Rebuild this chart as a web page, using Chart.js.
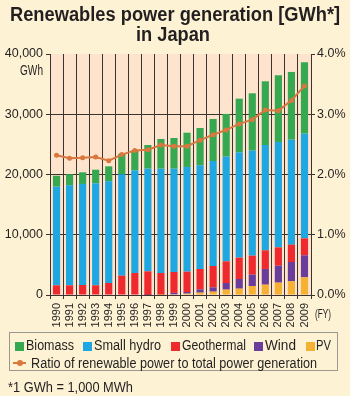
<!DOCTYPE html>
<html>
<head>
<meta charset="utf-8">
<script src="https://cdn.jsdelivr.net/npm/chart.js@4"></script>
<style>
  html, body { margin: 0; padding: 0; background: #fdf3d4; }
  body { width: 350px; height: 396px; position: relative; overflow: hidden;
         font-family: "Liberation Sans", Arial, sans-serif; color: #231f20; }
  #chart { position: absolute; left: 0; top: 0; }
  .t { position: absolute; white-space: nowrap; transform-origin: 0 0; display: inline-block; }
  .title { font-weight: bold; font-size: 20px; line-height: 20px; }
  .lg { font-size: 14px; line-height: 14px; }
  #legend { position: absolute; left: 9px; top: 332px; width: 329px; height: 39px; border: 1px solid #9b9690; box-sizing: border-box; }
  .sw { position: absolute; width: 9px; height: 9px; }
</style>
</head>
<body>
<canvas id="chart" width="350" height="396"></canvas>
<div class="t title" data-w="330" style="left:10px; top:4px">Renewables power generation [GWh*]</div>
<div class="t title" data-w="74" style="left:136px; top:24px">in Japan</div>
<div class="t" data-w="23" style="left:20px; top:63px; font-size:14px; line-height:14px">GWh</div>
<div class="t" data-w="16" style="left:315px; top:307px; font-size:13px; line-height:13px">(FY)</div>
<div id="legend"></div>
<div class="t lg" data-w="125" style="left:8px; top:380px">*1 GWh = 1,000 MWh</div>
<script>
// Fiscal years
const years = ['1990', '1991', '1992', '1993', '1994', '1995', '1996', '1997', '1998', '1999',
               '2000', '2001', '2002', '2003', '2004', '2005', '2006', '2007', '2008', '2009'];

// Generation by source, GWh
const pv         = [0, 0, 0, 0, 0, 0, 0, 0, 20, 100, 220, 390, 550, 890, 1050, 1490, 1710, 2050, 2270, 2930];
const wind       = [0, 0, 0, 0, 0, 0, 0, 10, 40, 250, 280, 550, 720, 1100, 1610, 1890, 2610, 2820, 3210, 3660];
const geothermal = [1610, 1610, 1660, 1610, 1990, 3210, 3650, 3920, 3590, 3470, 3370, 3380, 3540, 3600, 3540, 3150, 3100, 3040, 2870, 2820];
const smallHydro = [16370, 16590, 16770, 16930, 16910, 16830, 17050, 17040, 17320, 17150, 17380, 17210, 17430, 17370, 17490, 17430, 17480, 17490, 17430, 17370];
const biomass    = [1820, 1840, 1940, 2260, 2460, 3420, 3320, 3930, 4930, 5090, 5690, 6190, 6980, 7090, 8900, 9520, 10570, 11070, 11240, 11850];

// Ratio of renewable power to total power generation, %
const ratio = [2.32, 2.27, 2.28, 2.29, 2.23, 2.33, 2.40, 2.41, 2.49, 2.47,
               2.47, 2.57, 2.66, 2.74, 2.84, 2.91, 3.07, 3.06, 3.23, 3.47];

// Axis ticks
const gwhTicks = [0, 10000, 20000, 30000, 40000];
const pctTicks = [0, 1, 2, 3, 4];

const colors = {
    biomass: '#36a852',
    smallHydro: '#1ea7e0',
    geothermal: '#ee2a2e',
    wind: '#6a3d9a',
    pv: '#f6b132',
    ratio: '#d9773f',
    grid: '#3a3330',
    text: '#231f20',
    plot: '#fee4cd'
};

const fontFamily = '"Liberation Sans", Arial, sans-serif';

// Fill the plot area
const plotBackground = {
    id: 'plotBackground',
    beforeDraw(chart) {
        const { ctx, chartArea: a } = chart;
        ctx.save();
        ctx.fillStyle = colors.plot;
        ctx.fillRect(a.left, a.top, a.right - a.left, a.bottom - a.top);
        ctx.restore();
    }
};

function barSet(label, data, color) {
    return {
        label: label,
        data: data,
        backgroundColor: color,
        borderWidth: 0,
        yAxisID: 'y',
        order: 1,
        barPercentage: 0.55,
        categoryPercentage: 1
    };
}

new Chart(document.getElementById('chart'), {
    type: 'bar',
    data: {
        labels: years,
        datasets: [
            {
                type: 'line',
                label: 'Ratio of renewable power to total power generation',
                data: ratio,
                yAxisID: 'y1',
                order: 0,
                borderColor: colors.ratio,
                backgroundColor: colors.ratio,
                borderWidth: 2,
                pointRadius: 2.5,
                pointBorderWidth: 0,
                tension: 0
            },
            barSet('PV', pv, colors.pv),
            barSet('Wind', wind, colors.wind),
            barSet('Geothermal', geothermal, colors.geothermal),
            barSet('Small hydro', smallHydro, colors.smallHydro),
            barSet('Biomass', biomass, colors.biomass)
        ]
    },
    options: {
        responsive: false,
        animation: false,
        layout: { padding: { top: 54, bottom: 66, left: 0, right: 0 } },
        plugins: {
            legend: { display: false },
            tooltip: { enabled: false }
        },
        scales: {
            x: {
                stacked: true,
                afterFit: s => { s.height = 35; },
                grid: { color: colors.grid, tickColor: colors.grid, tickLength: 4, offset: true },
                border: { color: colors.grid },
                ticks: {
                    color: colors.text,
                    font: { family: fontFamily, size: 11 },
                    minRotation: 90,
                    maxRotation: 90,
                    autoSkip: false,
                    padding: 4
                }
            },
            y: {
                stacked: true,
                position: 'left',
                min: gwhTicks[0],
                max: gwhTicks[gwhTicks.length - 1],
                afterFit: s => { s.width = 50; },
                afterBuildTicks: s => { s.ticks = gwhTicks.map(v => ({ value: v })); },
                grid: {
                    color: c => (c.tick && c.tick.value === 40000 ? 'rgba(0,0,0,0)' : colors.grid),
                    tickColor: colors.grid,
                    tickLength: 4
                },
                border: { color: colors.grid },
                ticks: {
                    color: colors.text,
                    font: { family: fontFamily, size: 12.5 },
                    padding: 3,
                    callback: v => v.toLocaleString('en-US')
                }
            },
            y1: {
                position: 'right',
                min: pctTicks[0],
                max: pctTicks[pctTicks.length - 1],
                afterFit: s => { s.width = 39; },
                afterBuildTicks: s => { s.ticks = pctTicks.map(v => ({ value: v })); },
                grid: { drawOnChartArea: false, color: colors.grid, tickColor: colors.grid, tickLength: 4 },
                border: { color: colors.grid },
                ticks: {
                    color: colors.text,
                    font: { family: fontFamily, size: 12.5 },
                    padding: 2,
                    callback: v => v.toFixed(1) + '%'
                }
            }
        }
    },
    plugins: [plotBackground]
});

// Legend box: [label, colour, swatch x, text x, text width]
const legendRow1 = [
    ['Biomass', colors.biomass, 5, 16, 48],
    ['Small hydro', colors.smallHydro, 73, 84, 67],
    ['Geothermal', colors.geothermal, 161, 172, 64],
    ['Wind', colors.wind, 244, 255, 31],
    ['PV', colors.pv, 296, 306, 15]
];
let html = '';
legendRow1.forEach(([t, c, sx, tx, w]) => {
    html += '<span class="sw" style="left:' + sx + 'px; top:9px; background:' + c + '"></span>';
    html += '<span class="t lg" data-w="' + w + '" style="left:' + tx + 'px; top:5px">' + t + '</span>';
});
html += '<span style="position:absolute; left:3px; top:29px; width:13px; height:2px; background:' + colors.ratio + '"></span>';
html += '<span style="position:absolute; left:7px; top:27px; width:6px; height:6px; border-radius:3px; background:' + colors.ratio + '"></span>';
html += '<span class="t lg" data-w="286" style="left:21px; top:23px">Ratio of renewable power to total power generation</span>';
document.getElementById('legend').innerHTML = html;

// Squeeze text to the widths of the condensed face in the original
document.querySelectorAll('[data-w]').forEach(el => {
    const w = el.getBoundingClientRect().width;
    el.style.transform = 'scaleX(' + (parseFloat(el.dataset.w) / w).toFixed(3) + ')';
});
</script>
</body>
</html>
